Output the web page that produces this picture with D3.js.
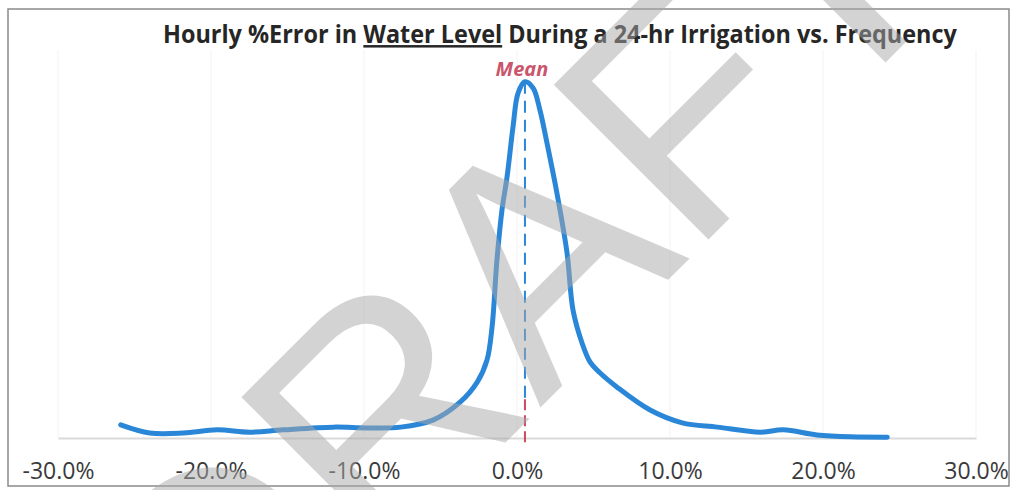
<!DOCTYPE html>
<html>
<head>
<meta charset="utf-8">
<script src="https://d3js.org/d3.v7.min.js"></script>
<style>
  body { margin: 0; background: #fff; }
  svg { display: block; }
</style>
</head>
<body>
<div id="chart"></div>
<script>
// hourly % error in water level (x) and frequency in % (y)
var errorPct = [-25.9, -24.0, -21.8, -19.6, -17.5, -15.3, -12.0, -9.8, -7.6, -5.5, -3.7, -2.6,
                -1.96, -1.63, -1.31, -0.98, -0.65, -0.26, 0.07, 0.52, 1.05, 1.5, 1.96, 2.61,
                3.27, 3.66, 4.25, 4.77, 5.42, 6.54, 8.7, 10.8, 13.1, 15.9, 17.4, 19.6, 21.8, 24.2];
var frequency = [0.34, 0.13, 0.13, 0.21, 0.15, 0.21, 0.28, 0.26, 0.28, 0.46, 0.93, 1.44,
                 2.01, 2.86, 4.59, 5.88, 6.73, 8.02, 8.89, 9.18, 9.02, 8.45, 7.60, 6.31,
                 4.77, 3.30, 2.45, 1.96, 1.68, 1.31, 0.72, 0.39, 0.28, 0.15, 0.21, 0.08, 0.03, 0.02];
var xTicks = [-30, -20, -10, 0, 10, 20, 30];
var meanPct = 0.52;
var meanPeak = 9.18, meanSplit = 1.0, meanBottom = -0.2;

var titleParts = [
  {text: "Hourly %Error in ", underline: false},
  {text: "Water Level", underline: true},
  {text: " During a 24-hr Irrigation vs. Frequency", underline: false}
];

var W = 1014, H = 490;
var svg = d3.select("#chart").append("svg")
            .attr("width", W)
            .attr("height", H);

svg.append("rect").attr("width", W).attr("height", H).attr("fill", "#fff");

// outer frame of the chart
svg.append("rect")
   .attr("x", 8).attr("y", 9)
   .attr("width", 1001).attr("height", 477)
   .attr("fill", "none")
   .attr("stroke", "#8a8a8a")
   .attr("stroke-width", 1.5);

var x = d3.scaleLinear().domain([-30, 30]).range([58, 976]);
var y = d3.scaleLinear().domain([0, 10]).range([438, 50]);

// faint vertical gridlines
svg.append("g").selectAll("line")
   .data(xTicks)
   .enter().append("line")
   .attr("x1", d => x(d)).attr("x2", d => x(d))
   .attr("y1", y(10)).attr("y2", y(0))
   .attr("stroke", "#f3f3f3")
   .attr("stroke-width", 1);

// x axis: baseline + labels below
var xAxis = svg.append("g")
   .attr("transform", "translate(0," + y(0) + ")")
   .call(d3.axisBottom(x).tickValues(xTicks).tickSize(0).tickPadding(25)
           .tickFormat(d => d.toFixed(1) + "%"));
xAxis.select(".domain").attr("stroke", "#d9d9d9").attr("stroke-width", 2);
xAxis.selectAll("text")
   .attr("fill", "#3a3a3a")
   .style("font-family", "'Open Sans', sans-serif")
   .style("font-size", "23px");

// mean line: blue dashes down to near the base, red below
svg.append("line")
   .attr("x1", x(meanPct)).attr("x2", x(meanPct))
   .attr("y1", y(meanPeak)).attr("y2", y(meanSplit))
   .attr("stroke", "#2a87d8").attr("stroke-width", 2)
   .attr("stroke-dasharray", "12,7");
svg.append("line")
   .attr("x1", x(meanPct)).attr("x2", x(meanPct))
   .attr("y1", y(meanSplit)).attr("y2", y(meanBottom))
   .attr("stroke", "#d0485e").attr("stroke-width", 2)
   .attr("stroke-dasharray", "11,5");

// frequency curve
var pts = errorPct.map((e, i) => [e, frequency[i]]);
var line = d3.line()
   .x(d => x(d[0]))
   .y(d => y(d[1]))
   .curve(d3.curveCatmullRom.alpha(0.5));
svg.append("path")
   .datum(pts)
   .attr("d", line)
   .attr("fill", "none")
   .attr("stroke", "#2a87d8")
   .attr("stroke-width", 5)
   .attr("stroke-linecap", "round")
   .attr("stroke-linejoin", "round");

// "Mean" label
svg.append("text")
   .attr("x", x(meanPct) - 3).attr("y", 76)
   .attr("text-anchor", "middle")
   .attr("fill", "#c9566c")
   .style("font-family", "'Open Sans', sans-serif")
   .style("font-size", "20px")
   .style("font-weight", "bold")
   .style("font-style", "italic")
   .text("Mean");

// title, squeezed horizontally to the width of the original
var titleG = svg.append("g");
var title = titleG.append("text")
   .attr("x", 0).attr("y", 0)
   .attr("fill", "#262626")
   .style("font-family", "'Open Sans', sans-serif")
   .style("font-size", "25px")
   .style("font-weight", "bold");
title.selectAll("tspan")
   .data(titleParts)
   .enter().append("tspan")
   .style("text-decoration", d => d.underline ? "underline" : "none")
   .style("white-space", "pre")
   .text(d => d.text);
var tw = title.node().getComputedTextLength();
var sx = 794 / tw;
titleG.attr("transform", "translate(163,43) scale(" + sx + ",1)");

// DRAFT watermark on top of everything
svg.append("text")
   .attr("transform", "translate(590,358) rotate(-45)")
   .attr("text-anchor", "middle")
   .attr("fill", "#a7a7a7")
   .attr("fill-opacity", 0.5)
   .style("font-family", "'Liberation Sans', Arial, sans-serif")
   .style("font-size", "318px")
   .text("DRAFT");
</script>
</body>
</html>
